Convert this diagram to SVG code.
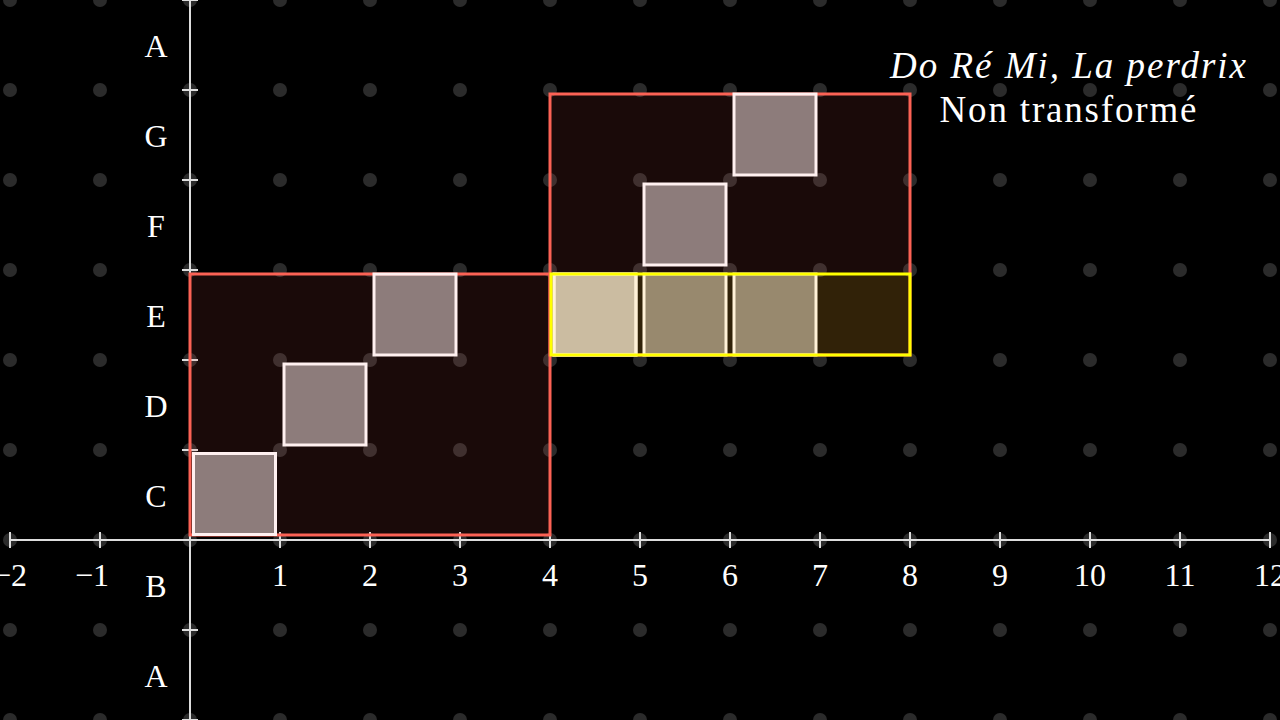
<svg xmlns="http://www.w3.org/2000/svg" width="1280" height="720" viewBox="0 0 1280 720">
<defs>
<pattern id="dots" x="10" y="0" width="90" height="90" patternUnits="userSpaceOnUse">
<circle cx="0" cy="0" r="7" fill="#2b2b2b"/><circle cx="90" cy="0" r="7" fill="#2b2b2b"/><circle cx="0" cy="90" r="7" fill="#2b2b2b"/><circle cx="90" cy="90" r="7" fill="#2b2b2b"/>
</pattern>
</defs>
<style>
.ax{stroke:#dddddd;stroke-width:2;fill:none}
.lbl{font-family:"Liberation Serif",serif;font-size:32px;fill:#ffffff;text-anchor:middle}
.title{font-family:"Liberation Serif",serif;font-size:37px;fill:#ffffff;text-anchor:middle}
.red{fill:#fc6255;fill-opacity:0.1;stroke:#fc6255;stroke-width:3}
.yel{fill:#ffff00;fill-opacity:0.1;stroke:#ffff00;stroke-width:3}
.sq{fill:#ffeeee;fill-opacity:0.5;stroke:#fff0f0;stroke-width:3}
</style>
<rect width="1280" height="720" fill="#000000"/>
<rect width="1280" height="720" fill="url(#dots)"/>
<g id="axes">
<line class="ax" x1="10" y1="540" x2="1270" y2="540"/>
<line class="ax" x1="190" y1="0" x2="190" y2="720"/>
<path class="ax" d="M10 532V548M100 532V548M280 532V548M370 532V548M460 532V548M550 532V548M640 532V548M730 532V548M820 532V548M910 532V548M1000 532V548M1090 532V548M1180 532V548M1270 532V548"/>
<path class="ax" d="M182 0H198M182 90H198M182 180H198M182 270H198M182 360H198M182 450H198M182 630H198M182 720H198"/>
</g>
<g id="x-labels">
<text class="lbl" x="10" y="586">−2</text>
<text class="lbl" x="92" y="586">−1</text>
<text class="lbl" x="280" y="586">1</text>
<text class="lbl" x="370" y="586">2</text>
<text class="lbl" x="460" y="586">3</text>
<text class="lbl" x="550" y="586">4</text>
<text class="lbl" x="640" y="586">5</text>
<text class="lbl" x="730" y="586">6</text>
<text class="lbl" x="820" y="586">7</text>
<text class="lbl" x="910" y="586">8</text>
<text class="lbl" x="1000" y="586">9</text>
<text class="lbl" x="1090" y="586">10</text>
<text class="lbl" x="1180" y="586">11</text>
<text class="lbl" x="1270" y="586">12</text>
</g>
<g id="y-labels">
<text class="lbl" x="156" y="57">A</text>
<text class="lbl" x="156" y="147">G</text>
<text class="lbl" x="156" y="237">F</text>
<text class="lbl" x="156" y="327">E</text>
<text class="lbl" x="156" y="417">D</text>
<text class="lbl" x="156" y="507">C</text>
<text class="lbl" x="156" y="597">B</text>
<text class="lbl" x="156" y="687">A</text>
</g>
<g id="box1"><rect class="red" x="190" y="274" width="360" height="261"/></g>
<g id="box2"><rect class="red" x="550" y="94" width="360" height="261"/></g>
<g id="notes">
<rect class="sq" x="193.5" y="453.5" width="82" height="81"/>
<rect class="sq" x="284" y="364" width="82" height="81"/>
<rect class="sq" x="374" y="274" width="82" height="81"/>
<rect class="sq" x="554" y="274" width="82" height="81"/>
<rect class="sq" x="554" y="274" width="82" height="81"/>
<rect class="sq" x="644" y="274" width="82" height="81"/>
<rect class="sq" x="734" y="274" width="82" height="81"/>
<rect class="sq" x="644" y="184" width="82" height="81"/>
<rect class="sq" x="734" y="94" width="82" height="81"/>
</g>
<g id="highlight"><rect class="yel" x="551" y="274" width="359" height="81"/></g>
<g id="title">
<text class="title" x="1068" y="78" font-style="italic" textLength="356">Do Ré Mi, La perdrix</text>
<text class="title" x="1068" y="122" textLength="257">Non transformé</text>
</g>
</svg>
